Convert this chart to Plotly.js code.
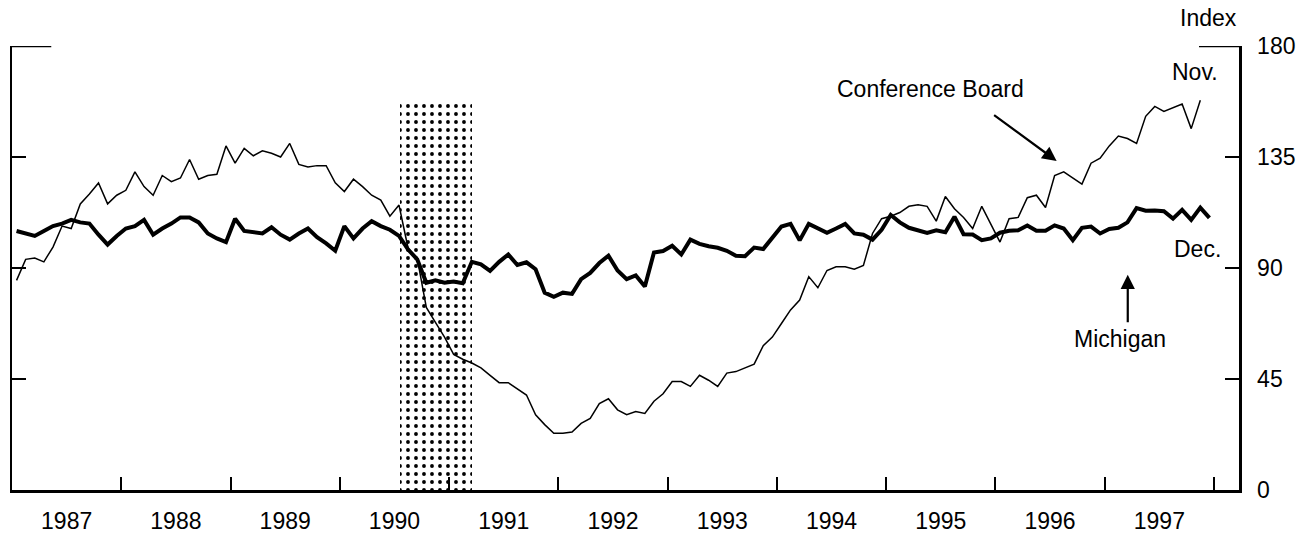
<!DOCTYPE html>
<html>
<head>
<meta charset="utf-8">
<script src="https://cdn.plot.ly/plotly-3.0.1.min.js"></script>
<style>html,body{margin:0;padding:0;background:#fff;}#chart{width:1308px;height:534px;}</style>
</head>
<body>
<div id="chart"></div>
<script>
// ---- data (monthly, Jan 1987 onward) ----
const startYear = 1987;
// Conference Board index, Jan 1987 - Nov 1997
const conferenceBoard = [
  85, 93.5, 94, 92.5, 98.5, 107, 106, 116, 120, 124.5, 116, 119.5,
  121.5, 129, 123, 119.5, 127.5, 125, 126.5, 134, 126, 127.5, 128, 139.5,
  132.5, 138.5, 135.5, 137.5, 136.5, 135, 140.5, 132, 131, 131.5, 131.5, 124.5,
  121, 126, 123, 119.5, 117.5, 111, 115.5, 98, 94, 74, 68, 62,
  55, 53, 51.5, 49.5, 46.5, 43.5, 43.5, 41, 38.5, 30.5, 26.5, 23,
  23, 23.5, 27, 29, 35, 37, 32.5, 30.5, 31.8, 31, 36, 39,
  44, 44, 42, 46.5, 44.5, 42, 47.4, 48, 49.5, 51, 58.5, 62,
  67.5, 73, 77, 86.5, 82, 89, 90.5, 90.5, 89.5, 91, 104, 110,
  111, 112.5, 115, 115.6, 115, 109, 119, 114, 110.5, 106, 115, 108,
  100.5, 110, 110.5, 118.5, 119.5, 114.5, 127.5, 129, 126.5, 124, 132.5, 134.5,
  139.5, 143.5, 142.5, 140.5, 151.5, 155.5, 153.5, 155, 156.5, 146.5, 158
];
// Michigan index, Jan 1987 - Dec 1997
const michigan = [
  105, 104, 103, 105, 107, 108, 109.5, 108.5, 108, 103.5, 99.5, 103,
  106, 107, 109.5, 103.5, 106, 108, 110.5, 110.5, 108.5, 104, 102, 100.5,
  110, 105, 104.5, 104, 106.5, 103.5, 101.5, 104, 106, 102.5, 100, 97,
  107, 102, 106, 109, 107, 105.5, 103, 97.5, 93.5, 84, 85, 84,
  84.5, 83.8, 92.5, 91.5, 88.8, 92.5, 95.5, 91.2, 92.3, 89.5, 80, 78.3,
  80, 79.5, 85.5, 88, 92, 95, 89, 85.5, 87, 82.5, 96.3, 96.9,
  99, 95.5, 101.5, 99.8, 98.8, 98.2, 97, 95, 94.8, 98.3, 97.7, 102,
  106.8, 107.9, 101.2, 107.9, 106, 104.3, 106, 107.9, 104, 103.5, 101.5, 105.5,
  111.5, 108.5, 106.3, 105.4, 104.2, 105.3, 104.5, 110.8, 103.7, 103.6, 101.3, 102,
  104.3, 105.1, 105.3, 107.2, 105.1, 105.1, 107.3, 106, 101.3, 106.3, 106.8, 104,
  105.8, 106.3, 108.5, 114.3, 113.2, 113.3, 113, 110, 113.6, 109.5, 114.5, 110.3
];
const yearLabels = ['1987','1988','1989','1990','1991','1992','1993','1994','1995','1996','1997'];
const yTicks = [0, 45, 90, 135, 180];
// recession shading (Jul 1990 - Mar 1991)
const recessionStart = 1990.55;
const recessionEnd = 1991.21;
const recessionTop = 157;

// ---- build ----
const monthX = n => Array.from({length: n}, (_, i) => startYear + (i + 0.5) / 12);
const yearMid = yearLabels.map(y => Number(y) + 0.5);
const yearBounds = yearLabels.map(y => Number(y) + 1);

const FONT = 'Liberation Sans, Arial, Helvetica, sans-serif';
const FS = 23;

const traces = [
  {
    type: 'bar',
    x: [(recessionStart + recessionEnd) / 2],
    y: [recessionTop],
    width: [recessionEnd - recessionStart],
    marker: {
      color: 'white',
      line: {width: 0},
      pattern: {shape: '.', fgcolor: 'black', bgcolor: 'white', size: 8, solidity: 0.18}
    },
    hoverinfo: 'skip'
  },
  {
    type: 'scatter', mode: 'lines', name: 'Conference Board',
    x: monthX(conferenceBoard.length), y: conferenceBoard,
    line: {color: 'black', width: 1.5}
  },
  {
    type: 'scatter', mode: 'lines', name: 'Michigan',
    x: monthX(michigan.length), y: michigan,
    line: {color: 'black', width: 4}
  }
];

const layout = {
  width: 1308, height: 534,
  margin: {l: 12, r: 69, t: 46, b: 44},
  paper_bgcolor: 'white', plot_bgcolor: 'white',
  showlegend: false,
  font: {family: FONT, color: 'black', size: FS},
  xaxis: {
    range: [1987, 1998.229],
    tickmode: 'array', tickvals: yearMid, ticktext: yearLabels,
    ticks: '', showgrid: false, zeroline: false,
    showline: true, linecolor: 'black', linewidth: 2.5,
    tickfont: {family: FONT, size: FS, color: 'black'},
    ticklabelstandoff: 9,
    minor: {tickmode: 'array', tickvals: yearBounds, ticks: 'inside', ticklen: 13, tickwidth: 2, tickcolor: 'black', showgrid: false},
    fixedrange: true
  },
  yaxis: {
    side: 'right', range: [0, 180],
    tickmode: 'array', tickvals: yTicks, ticktext: yTicks.map(String),
    ticks: 'inside', ticklen: 14, tickwidth: 2, tickcolor: 'black',
    showline: true, linecolor: 'black', linewidth: 2.5, mirror: 'ticks',
    showgrid: false, zeroline: false,
    tickfont: {family: FONT, size: FS, color: 'black'},
    ticklabelstandoff: 11,
    fixedrange: true
  },
  shapes: [
    {type: 'line', xref: 'paper', yref: 'y', x0: 0, x1: 0.032, y0: 180, y1: 180, line: {color: 'black', width: 2.5}},
    {type: 'line', xref: 'paper', yref: 'y', x0: 0.9674, x1: 1, y0: 180, y1: 180, line: {color: 'black', width: 2.5}}
  ],
  annotations: [
    {text: 'Index', xref: 'paper', yref: 'paper', x: 1.0, y: 1.063, xanchor: 'right', yanchor: 'middle', showarrow: false, font: {size: FS}},
    {text: 'Nov.', xref: 'x', yref: 'y', x: 1997.823, y: 169.6, xanchor: 'center', yanchor: 'middle', showarrow: false, font: {size: FS}},
    {text: 'Conference Board', xref: 'x', yref: 'y', x: 1995.406, y: 162.4, xanchor: 'center', yanchor: 'middle', showarrow: false, font: {size: FS}},
    {text: '', xref: 'x', yref: 'y', x: 1996.56, y: 133.4, ax: -64, ay: -47, showarrow: true, arrowhead: 2, arrowsize: 1.3, arrowwidth: 2.2, arrowcolor: 'black'},
    {text: 'Dec.', xref: 'x', yref: 'y', x: 1997.848, y: 97.6, xanchor: 'center', yanchor: 'middle', showarrow: false, font: {size: FS}},
    {text: 'Michigan', xref: 'x', yref: 'y', x: 1997.142, y: 61.2, xanchor: 'center', yanchor: 'middle', showarrow: false, font: {size: FS}},
    {text: '', xref: 'x', yref: 'y', x: 1997.211, y: 87.3, ax: 0, ay: 49, showarrow: true, arrowhead: 2, arrowsize: 1.3, arrowwidth: 2.2, arrowcolor: 'black'}
  ],
  bargap: 0
};

Plotly.newPlot('chart', traces, layout, {displayModeBar: false, staticPlot: true});
</script>
</body>
</html>
